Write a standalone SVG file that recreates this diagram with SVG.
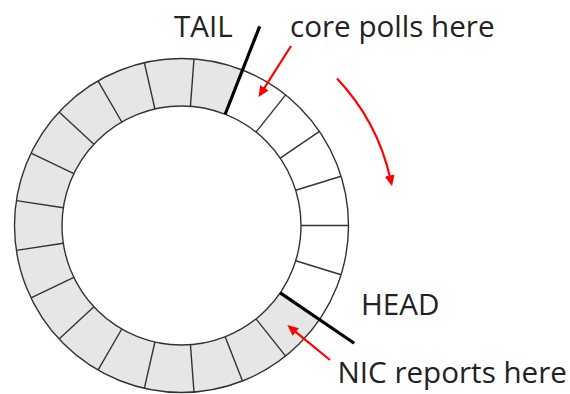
<svg xmlns="http://www.w3.org/2000/svg" width="570" height="394" viewBox="0 0 570 394">
  <style>
    .label { font-family: "Open Sans", "Noto Sans", "Liberation Sans", sans-serif; font-size: 29.6px; fill: #222; }
    .rim { fill: none; stroke: #333; stroke-width: 1.4; }
    .div { stroke: #333; stroke-width: 1.4; }
    .ptr { stroke: #000; stroke-width: 3.2; stroke-linecap: butt; }
    .red { fill: none; stroke: #f00; stroke-width: 2.2; marker-end: url(#head); }
  </style>
  <defs>
    <marker id="head" markerUnits="userSpaceOnUse" markerWidth="11" markerHeight="10" refX="3" refY="5" orient="auto">
      <path d="M0,0 L11,5 L0,10 z" fill="#f00"/>
    </marker>
  </defs>

  <!-- ring buffer: 21 slots around (181.5, 225.5) -->
  <g id="ring">
    <path d="M319.48,319.57 A167,167 0 1 1 242.51,70.04 L225.16,114.26 A119.5,119.5 0 1 0 280.24,292.82 Z" fill="#e6e6e6"/>
    <circle class="rim" cx="181.5" cy="225.5" r="167"/>
    <circle class="rim" cx="181.5" cy="225.5" r="119.5"/>
    <g transform="translate(181.5 225.5)">
      <line class="div" x1="119.5" x2="167" transform="rotate(0)"/>
      <line class="div" x1="119.5" x2="167" transform="rotate(17.1429)"/>
      <line class="div" x1="119.5" x2="167" transform="rotate(51.4286)"/>
      <line class="div" x1="119.5" x2="167" transform="rotate(68.5714)"/>
      <line class="div" x1="119.5" x2="167" transform="rotate(85.7143)"/>
      <line class="div" x1="119.5" x2="167" transform="rotate(102.857)"/>
      <line class="div" x1="119.5" x2="167" transform="rotate(120)"/>
      <line class="div" x1="119.5" x2="167" transform="rotate(137.143)"/>
      <line class="div" x1="119.5" x2="167" transform="rotate(154.286)"/>
      <line class="div" x1="119.5" x2="167" transform="rotate(171.429)"/>
      <line class="div" x1="119.5" x2="167" transform="rotate(188.571)"/>
      <line class="div" x1="119.5" x2="167" transform="rotate(205.714)"/>
      <line class="div" x1="119.5" x2="167" transform="rotate(222.857)"/>
      <line class="div" x1="119.5" x2="167" transform="rotate(240)"/>
      <line class="div" x1="119.5" x2="167" transform="rotate(257.143)"/>
      <line class="div" x1="119.5" x2="167" transform="rotate(274.286)"/>
      <line class="div" x1="119.5" x2="167" transform="rotate(308.571)"/>
      <line class="div" x1="119.5" x2="167" transform="rotate(325.714)"/>
      <line class="div" x1="119.5" x2="167" transform="rotate(342.857)"/>
    </g>
  </g>

  <!-- tail pointer -->
  <g id="tail">
    <line class="ptr" x1="225.16" y1="114.26" x2="259.7" y2="26.3"/>
    <text class="label" x="174" y="36.5">TAIL</text>
  </g>

  <!-- head pointer -->
  <g id="head-ptr">
    <line class="ptr" x1="280.24" y1="292.82" x2="354.2" y2="343.2"/>
    <text class="label" x="361" y="315">HEAD</text>
  </g>

  <g id="core-label">
    <text class="label" x="290" y="36.5">core polls here</text>
  </g>
  <g id="nic-label">
    <text class="label" x="337.5" y="383">NIC reports here</text>
  </g>

  <!-- red arrows -->
  <g id="connectors">
    <path class="red" d="M291,46 L262.8,90.3"/>
    <path class="red" d="M330,360 L293.5,330.1"/>
    <path class="red" d="M337,78.5 A214,214 0 0 1 390.3,178.5"/>
  </g>
</svg>
